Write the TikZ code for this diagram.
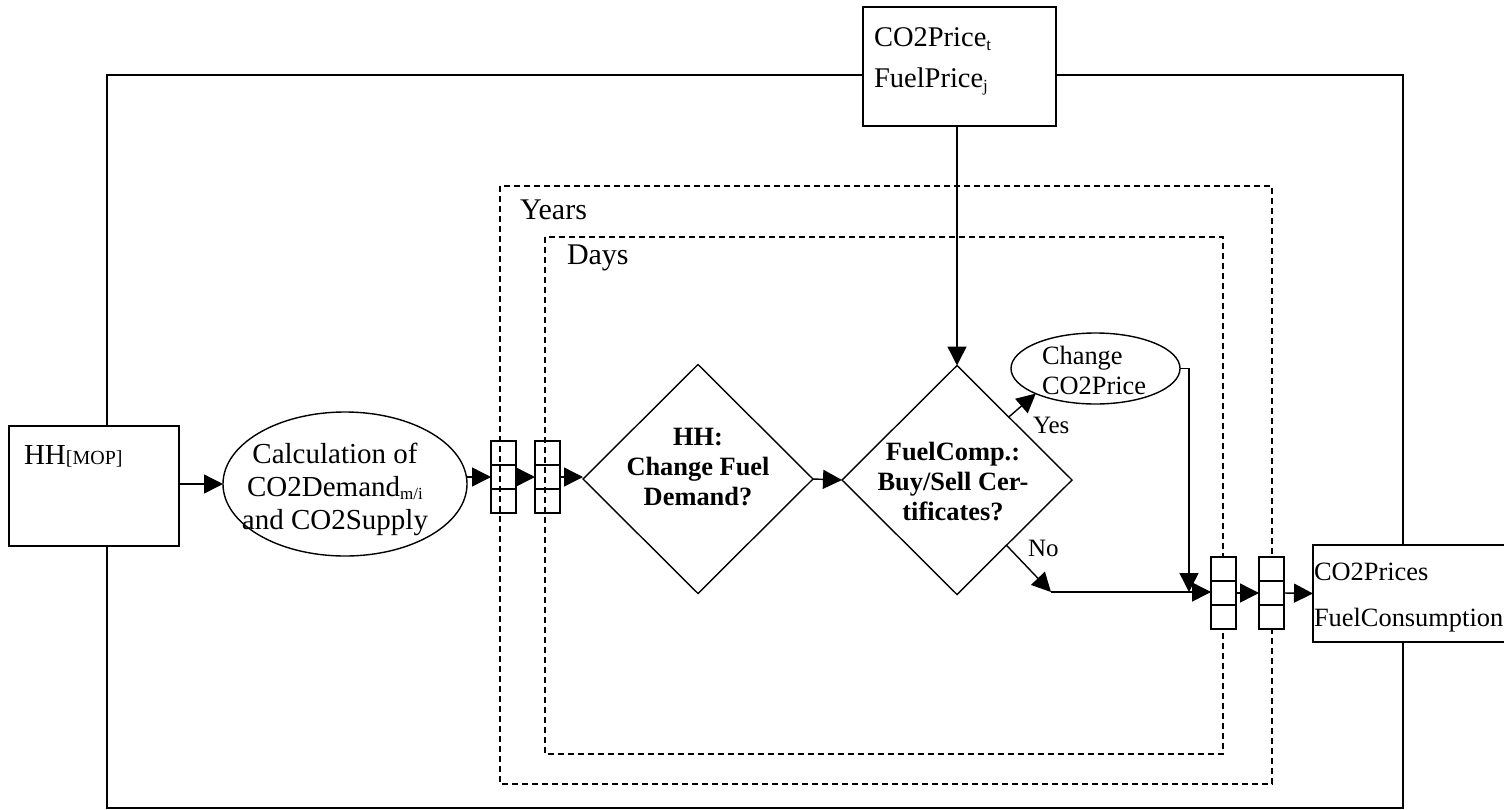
\documentclass[tikz,border=0pt]{standalone}
\usepackage{fontspec}
\setmainfont{Liberation Serif}
\usetikzlibrary{arrows.meta,positioning,calc,shapes.geometric}

\newcommand{\lowtxt}[1]{\raisebox{-0.25ex}{\fontsize{17}{17}\selectfont #1}}

\tikzset{
  box/.style={draw,fill=white,inner sep=0pt,outer sep=0pt},
  looprect/.style={draw,dash pattern=on 6pt off 4pt},
  decision/.style={draw,fill=white,diamond,aspect=1,inner sep=0pt,outer sep=0pt},
  calcnode/.style={draw,fill=white,ellipse,inner sep=0pt,outer sep=0pt},
  queue/.style={draw,rectangle,minimum width=25pt,minimum height=72pt,inner sep=0pt,outer sep=0pt},
  txt/.style={inner sep=0pt,outer sep=0pt,font=\fontsize{26.4}{30}\selectfont},
}

\begin{document}
\begin{tikzpicture}[x=1pt,y=-1pt,line width=1.4pt,>={Triangle[length=19pt,width=19pt]}]
\useasboundingbox (0,0) rectangle (1504,809);
\clip (0,0) rectangle (1504,809);
\draw (107,75) rectangle (1403,808);
\draw[looprect] (500,186) rectangle (1272,784);
\draw[looprect] (545,237) rectangle (1223,754);
\node[txt,anchor=base west,font=\fontsize{30}{34}\selectfont] (years) at (520,219) {Years};
\node[txt,anchor=base west,font=\fontsize{30}{34}\selectfont] (days) at (567,264) {Days};

\node[box,minimum width=193pt,minimum height=119pt] (prices) at (959.5,66.5) {};
\node[txt,anchor=north west,align=left,font=\fontsize{28.5}{41}\selectfont] (prices-t) at (874,28) {CO2Price\lowtxt{t}\\FuelPrice\lowtxt{j}};
\node[box,minimum width=170pt,minimum height=120pt] (hh) at (94,486) {};
\node[txt,anchor=base west,font=\fontsize{29}{34}\selectfont] (hh-t) at (24,464) {HH{\fontsize{20}{20}\selectfont[MOP]}};
\node[box,minimum width=207pt,minimum height=97pt] (out) at (1416.5,593.5) {};
\node[txt,anchor=north west,align=left,font=\fontsize{26.4}{46}\selectfont] (out-t) at (1314,563) {CO2Prices\\FuelConsumption};

\node[calcnode,minimum width=244pt,minimum height=144pt] (calc) at (345,484) {};
\node[txt,align=center,font=\fontsize{29}{33}\selectfont] (calc-t) at (335,489) {Calculation of\\CO2Demand\lowtxt{m/i}\\and CO2Supply};

\node[decision,minimum width=230pt,minimum height=229pt] (hhq) at (698,479) {};
\node[txt,align=center,font=\fontsize{26.4}{30}\selectfont\bfseries] (hhq-t) at (698,467) {HH:\\Change Fuel\\Demand?};
\node[decision,minimum width=230pt,minimum height=229pt] (fuel) at (957,480) {};
\node[txt,align=center,font=\fontsize{26.4}{30}\selectfont\bfseries] (fuel-t) at (953,482) {FuelComp.:\\Buy/Sell Cer-\\tificates?};

\node[calcnode,minimum width=169pt,minimum height=71pt] (chg) at (1095.5,368.5) {};
\node[txt,anchor=north west,align=left] (chg-t) at (1042,346) {Change\\CO2Price};
\node[txt,anchor=base west,font=\fontsize{25}{30}\selectfont] (yes) at (1033,433) {Yes};
\node[txt,anchor=base west,font=\fontsize{25}{30}\selectfont] (no) at (1028,556) {No};

\node[queue] (q1) at (503.5,477) {};
\node[queue] (q2) at (547.5,477) {};
\node[queue,fill=white] (q3) at (1223.5,593) {};
\node[queue,fill=white] (q4) at (1271.5,593) {};
\foreach \q in {q1,q2,q3,q4} {
  \draw ($(\q.north west)!1/3!(\q.south west)$) -- ($(\q.north east)!1/3!(\q.south east)$);
  \draw ($(\q.north west)!2/3!(\q.south west)$) -- ($(\q.north east)!2/3!(\q.south east)$);
}

\coordinate (nobend) at (1051,592);
\coordinate (merge) at (1189,592);

\draw[->] (hh.east |- calc.west) -- (calc.west);
\draw[->] (calc.east |- q1.west) -- (q1.west);
\draw[->] (q1.east) -- (q2.west);
\draw[->] (q2.east) -- (q2.east -| hhq.west);
\draw[->] (hhq.east) -- (fuel.west);
\draw[->] (prices.south -| fuel.north) -- (fuel.north);
\draw[->] ($(fuel.north)!0.45!(fuel.east)$) -- (chg.south west);
\draw[->] ($(fuel.east)!0.57!(fuel.south)$) -- (nobend);
\draw[->] (nobend) -- (nobend -| q3.west);
\draw[->] (chg.east) -| (merge);
\draw[->] (q3.east) -- (q4.west);
\draw[->] (q4.east) -- (out.west);
\end{tikzpicture}
\end{document}
